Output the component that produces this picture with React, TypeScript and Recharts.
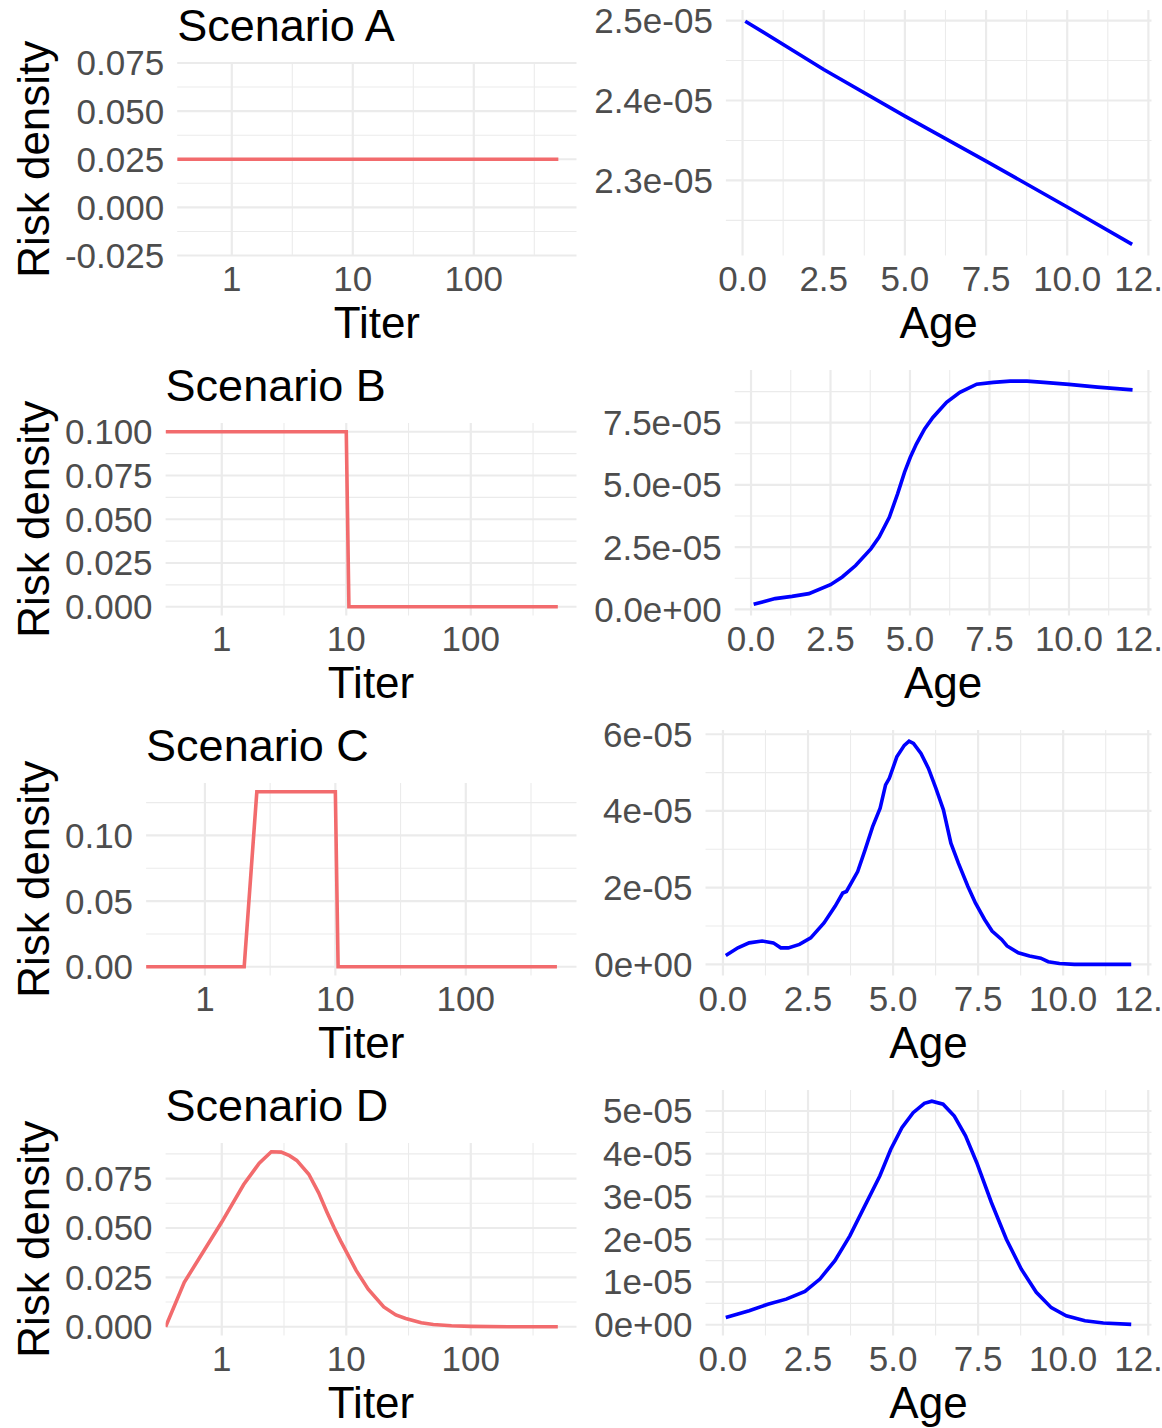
import React from 'react';
import { LineChart, Line, XAxis, YAxis, CartesianGrid, Label } from 'recharts';

// ---------------- data ----------------
// Left column: risk density against titer (log axis). Titer 0 is drawn at the panel's left edge.
const TITER_A = [0, 0.5, 500];
const RISK_A = [0.025, 0.025, 0.025];

const TITER_B = [0, 0.5, 10, 10.5, 500];
const RISK_B = [0.1, 0.1, 0.1, 0, 0];

const TITER_C = [0, 0.5, 2, 2.5, 10, 10.5, 500];
const RISK_C = [0, 0, 0, 0.1333, 0.1333, 0, 0];

const TITER_D = [0, 0.5, 1, 1.5, 2, 2.5, 3, 3.5, 4, 5, 6, 7, 8, 9, 10, 12, 15, 20, 25, 30, 40, 50, 70, 100, 200, 500];
const RISK_D = [0, 0.0225, 0.053, 0.072, 0.0828, 0.0886, 0.0884, 0.0866, 0.0842, 0.0772, 0.0678, 0.058, 0.05, 0.0435, 0.038, 0.0285, 0.019, 0.01, 0.006, 0.0042, 0.002, 0.0011, 0.0005, 0.0002, 0.00002, 0];

// Right column: density against age
const AGE_A = [0.083, 2.5, 5, 7.5, 10, 12];
const DENS_A = [2.4993e-5, 2.4388e-5, 2.3804e-5, 2.3242e-5, 2.2667e-5, 2.22e-5];

const AGE_B = [0.083, 0.76, 1.29, 1.82, 2.5, 2.87, 3.29, 3.77, 4.03, 4.35, 4.61, 4.83, 5.01, 5.2, 5.46, 5.72, 6.15, 6.57, 7.1, 7.62, 8.15, 8.68, 9.21, 10.0, 10.9, 12];
const DENS_B = [0.2e-5, 0.43e-5, 0.52e-5, 0.63e-5, 0.99e-5, 1.3e-5, 1.76e-5, 2.43e-5, 2.9e-5, 3.7e-5, 4.64e-5, 5.51e-5, 6.11e-5, 6.64e-5, 7.25e-5, 7.71e-5, 8.32e-5, 8.72e-5, 9.05e-5, 9.12e-5, 9.17e-5, 9.17e-5, 9.12e-5, 9.04e-5, 8.93e-5, 8.82e-5];

const AGE_C = [0.083, 0.44, 0.77, 1.15, 1.48, 1.7, 1.92, 2.25, 2.58, 2.97, 3.3, 3.52, 3.63, 3.96, 4.18, 4.4, 4.62, 4.78, 4.89, 5.11, 5.33, 5.47, 5.6, 5.82, 6.04, 6.26, 6.48, 6.7, 6.92, 7.2, 7.42, 7.69, 7.91, 8.19, 8.35, 8.68, 9.01, 9.34, 9.56, 9.89, 10.33, 12];
const DENS_C = [0.23e-5, 0.43e-5, 0.56e-5, 0.61e-5, 0.56e-5, 0.43e-5, 0.43e-5, 0.52e-5, 0.69e-5, 1.08e-5, 1.52e-5, 1.86e-5, 1.9e-5, 2.42e-5, 2.99e-5, 3.59e-5, 4.07e-5, 4.68e-5, 4.85e-5, 5.41e-5, 5.71e-5, 5.82e-5, 5.76e-5, 5.5e-5, 5.11e-5, 4.59e-5, 4.03e-5, 3.16e-5, 2.64e-5, 2.03e-5, 1.6e-5, 1.17e-5, 0.87e-5, 0.65e-5, 0.48e-5, 0.3e-5, 0.22e-5, 0.16e-5, 0.07e-5, 0.02e-5, 0, 0];

const AGE_D = [0.083, 0.77, 1.32, 1.86, 2.41, 2.85, 3.29, 3.73, 4.17, 4.61, 4.93, 5.26, 5.59, 5.92, 6.14, 6.47, 6.8, 7.13, 7.46, 7.89, 8.33, 8.77, 9.21, 9.65, 10.09, 10.64, 11.18, 12];
const DENS_D = [0.17e-5, 0.33e-5, 0.48e-5, 0.6e-5, 0.78e-5, 1.07e-5, 1.5e-5, 2.08e-5, 2.78e-5, 3.48e-5, 4.1e-5, 4.61e-5, 4.96e-5, 5.18e-5, 5.23e-5, 5.16e-5, 4.88e-5, 4.42e-5, 3.79e-5, 2.86e-5, 2.0e-5, 1.3e-5, 0.76e-5, 0.4e-5, 0.21e-5, 0.093e-5, 0.04e-5, 0.01e-5];

// tick values
const TITER_TICKS = [1, 10, 100];
const TITER_MINOR = [3.1623, 31.623, 316.23];
const AGE_TICKS = [0, 2.5, 5, 7.5, 10, 12.5];
const AGE_MINOR = [1.25, 3.75, 6.25, 8.75, 11.25];

const RISK_TICKS_A = [-0.025, 0, 0.025, 0.05, 0.075];
const RISK_MINOR_A = [-0.0125, 0.0125, 0.0375, 0.0625];
const RISK_TICKS_B = [0, 0.025, 0.05, 0.075, 0.1];
const RISK_MINOR_B = [0.0125, 0.0375, 0.0625, 0.0875];
const RISK_TICKS_C = [0, 0.05, 0.1];
const RISK_MINOR_C = [0.025, 0.075, 0.125];
const RISK_TICKS_D = [0, 0.025, 0.05, 0.075];
const RISK_MINOR_D = [0.0125, 0.0375, 0.0625, 0.0875];

const DENS_TICKS_A = [2.3e-5, 2.4e-5, 2.5e-5];
const DENS_MINOR_A = [2.25e-5, 2.35e-5, 2.45e-5];
const DENS_TICKS_B = [0, 2.5e-5, 5e-5, 7.5e-5];
const DENS_MINOR_B = [1.25e-5, 3.75e-5, 6.25e-5, 8.75e-5];
const DENS_TICKS_C = [0, 2e-5, 4e-5, 6e-5];
const DENS_MINOR_C = [1e-5, 3e-5, 5e-5];
const DENS_TICKS_D = [0, 1e-5, 2e-5, 3e-5, 4e-5, 5e-5];
const DENS_MINOR_D = [0.5e-5, 1.5e-5, 2.5e-5, 3.5e-5, 4.5e-5];

// ---------------- helpers ----------------
const FONT = '"Liberation Sans", Arial, Helvetica, sans-serif';
const TICK_COLOR = '#4D4D4D';
const GRID_COLOR = '#EBEBEB';
const RED = '#F26B6D';
const BLUE = '#0000FF';

const expand = (lo: number, hi: number): [number, number] => {
  const d = (hi - lo) * 0.05;
  return [lo - d, hi + d];
};

const finiteTiters = [...TITER_A, ...TITER_B, ...TITER_C, ...TITER_D].filter((t) => t > 0);
const logRange = expand(
  Math.log10(Math.min(...finiteTiters)),
  Math.log10(Math.max(...finiteTiters))
);
const TITER_DOMAIN: [number, number] = [Math.pow(10, logRange[0]), Math.pow(10, logRange[1])];
const allAges = [...AGE_A, ...AGE_B, ...AGE_C, ...AGE_D];
const AGE_DOMAIN = expand(Math.min(...allAges), Math.max(...allAges));

const titerData = (t: number[], r: number[]) =>
  t.map((v, i) => ({ x: v > 0 ? v : TITER_DOMAIN[0], y: r[i] }));
const ageData = (a: number[], d: number[]) => a.map((v, i) => ({ x: v, y: d[i] }));

const sci = (digits: number) => (v: number) => {
  const s = v.toExponential(digits);
  return s.replace(/e([+-])(\d)$/, 'e$10$2');
};
const fixed = (digits: number) => (v: number) => v.toFixed(digits);

const CELL_W = 581;
const ROW_H = 360;
const PAD_TOP = 14; // svg extends a little above each row so titles are not clipped
const CELL_H = ROW_H + PAD_TOP;
const X_AXIS_H = 90;
const PLOT_BOTTOM = 255.5;

type PanelProps = {
  left: number;
  top: number;
  data: { x: number; y: number }[];
  log: boolean;
  xDomain: [number, number];
  xTicks: number[];
  xMinor: number[];
  xFormat: (v: number) => string;
  xTitle: string;
  yDomain: [number, number];
  yTicks: number[];
  yMinor: number[];
  yFormat: (v: number) => string;
  color: string;
  plotLeft: number;
  plotTop: number;
  plotRight: number;
  title?: string;
  yTitle?: string;
};

const Panel = (p: PanelProps) => {
  const tickStyle = { fill: TICK_COLOR, fontSize: 35, fontFamily: FONT };
  return (
    <div style={{ position: 'absolute', left: p.left, top: p.top - PAD_TOP, width: CELL_W, height: CELL_H }}>
      <LineChart
        width={CELL_W}
        height={CELL_H}
        data={p.data}
        margin={{
          top: p.plotTop + PAD_TOP,
          right: CELL_W - p.plotRight,
          bottom: CELL_H - (PLOT_BOTTOM + PAD_TOP) - X_AXIS_H,
          left: 0,
        }}
      >
        <CartesianGrid stroke={GRID_COLOR} strokeWidth={1.1} horizontalValues={p.yMinor} verticalValues={p.xMinor} />
        <CartesianGrid stroke={GRID_COLOR} strokeWidth={2.2} horizontalValues={p.yTicks} verticalValues={p.xTicks} />
        <XAxis
          dataKey="x"
          type="number"
          scale={p.log ? 'log' : 'linear'}
          domain={p.xDomain}
          ticks={p.xTicks}
          allowDataOverflow
          interval={0}
          tickFormatter={p.xFormat}
          axisLine={false}
          tickLine={false}
          tickSize={0}
          tickMargin={11}
          height={X_AXIS_H}
          tick={tickStyle}
        >
          <Label
            content={(props: any) => {
              const vb = props.viewBox || {};
              return (
                <text
                  x={vb.x + vb.width / 2}
                  y={vb.y + 82.5}
                  textAnchor="middle"
                  fontSize={44}
                  fontFamily={FONT}
                  fill="#000000"
                >
                  {p.xTitle}
                </text>
              );
            }}
          />
        </XAxis>
        <YAxis
          type="number"
          domain={p.yDomain}
          ticks={p.yTicks}
          allowDataOverflow
          interval={0}
          tickFormatter={p.yFormat}
          axisLine={false}
          tickLine={false}
          tickSize={0}
          tickMargin={13}
          width={p.plotLeft}
          tick={tickStyle}
        >
          {p.yTitle ? (
            <Label
              content={(props: any) => {
                const vb = props.viewBox || {};
                const cy = vb.y + vb.height / 2;
                const bx = 48.5;
                return (
                  <text
                    x={bx}
                    y={cy}
                    transform={`rotate(-90, ${bx}, ${cy})`}
                    textAnchor="middle"
                    fontSize={44}
                    fontFamily={FONT}
                    fill="#000000"
                  >
                    {p.yTitle}
                  </text>
                );
              }}
            />
          ) : null}
          {p.title ? (
            <Label
              content={(props: any) => {
                const vb = props.viewBox || {};
                return (
                  <text
                    x={vb.x + vb.width}
                    y={PAD_TOP + 41}
                    textAnchor="start"
                    fontSize={45}
                    fontFamily={FONT}
                    fill="#000000"
                  >
                    {p.title}
                  </text>
                );
              }}
            />
          ) : null}
        </YAxis>
        <Line
          type="linear"
          dataKey="y"
          stroke={p.color}
          strokeWidth={3.6}
          dot={false}
          activeDot={false}
          isAnimationActive={false}
        />
      </LineChart>
    </div>
  );
};

const LEFT_PLOT_RIGHT = 576.5;
const RIGHT_PLOT_RIGHT = 570.5;
const LEFT_PLOT_TOP = 63;
const RIGHT_PLOT_TOP = 10;

const titerFmt = (v: number) => String(Math.round(v));
const ageFmt = fixed(1);

export default function App() {
  const rowsLeft = [
    { title: 'Scenario A', t: TITER_A, r: RISK_A, yDomain: [-0.025, 0.075] as [number, number], ticks: RISK_TICKS_A, minor: RISK_MINOR_A, fmt: fixed(3), plotLeft: 177.2 },
    { title: 'Scenario B', t: TITER_B, r: RISK_B, yDomain: expand(Math.min(...RISK_B), Math.max(...RISK_B)), ticks: RISK_TICKS_B, minor: RISK_MINOR_B, fmt: fixed(3), plotLeft: 165.6 },
    { title: 'Scenario C', t: TITER_C, r: RISK_C, yDomain: expand(Math.min(...RISK_C), Math.max(...RISK_C)), ticks: RISK_TICKS_C, minor: RISK_MINOR_C, fmt: fixed(2), plotLeft: 146.1 },
    { title: 'Scenario D', t: TITER_D, r: RISK_D, yDomain: expand(Math.min(...RISK_D), Math.max(...RISK_D)), ticks: RISK_TICKS_D, minor: RISK_MINOR_D, fmt: fixed(3), plotLeft: 165.6 },
  ];
  const rowsRight = [
    { a: AGE_A, d: DENS_A, ticks: DENS_TICKS_A, minor: DENS_MINOR_A, fmt: sci(1), plotLeft: 144.9 },
    { a: AGE_B, d: DENS_B, ticks: DENS_TICKS_B, minor: DENS_MINOR_B, fmt: sci(1), plotLeft: 153.7 },
    { a: AGE_C, d: DENS_C, ticks: DENS_TICKS_C, minor: DENS_MINOR_C, fmt: sci(0), plotLeft: 124.5 },
    { a: AGE_D, d: DENS_D, ticks: DENS_TICKS_D, minor: DENS_MINOR_D, fmt: sci(0), plotLeft: 124.5 },
  ];
  return (
    <div
      style={{
        position: 'absolute',
        left: 0,
        top: 0,
        width: 1162,
        height: 1428,
        overflow: 'hidden',
        background: '#FFFFFF',
        fontFamily: FONT,
      }}
    >
      {rowsLeft.map((row, i) => (
        <Panel
          key={'L' + i}
          left={0}
          top={i * ROW_H}
          data={titerData(row.t, row.r)}
          log
          xDomain={TITER_DOMAIN}
          xTicks={TITER_TICKS}
          xMinor={TITER_MINOR}
          xFormat={titerFmt}
          xTitle="Titer"
          yDomain={row.yDomain}
          yTicks={row.ticks}
          yMinor={row.minor}
          yFormat={row.fmt}
          color={RED}
          plotLeft={row.plotLeft}
          plotTop={LEFT_PLOT_TOP}
          plotRight={LEFT_PLOT_RIGHT}
          title={row.title}
          yTitle="Risk density"
        />
      ))}
      {rowsRight.map((row, i) => (
        <Panel
          key={'R' + i}
          left={CELL_W}
          top={i * ROW_H}
          data={ageData(row.a, row.d)}
          log={false}
          xDomain={AGE_DOMAIN}
          xTicks={AGE_TICKS}
          xMinor={AGE_MINOR}
          xFormat={ageFmt}
          xTitle="Age"
          yDomain={expand(Math.min(...row.d), Math.max(...row.d))}
          yTicks={row.ticks}
          yMinor={row.minor}
          yFormat={row.fmt}
          color={BLUE}
          plotLeft={row.plotLeft}
          plotTop={RIGHT_PLOT_TOP}
          plotRight={RIGHT_PLOT_RIGHT}
        />
      ))}
    </div>
  );
}
